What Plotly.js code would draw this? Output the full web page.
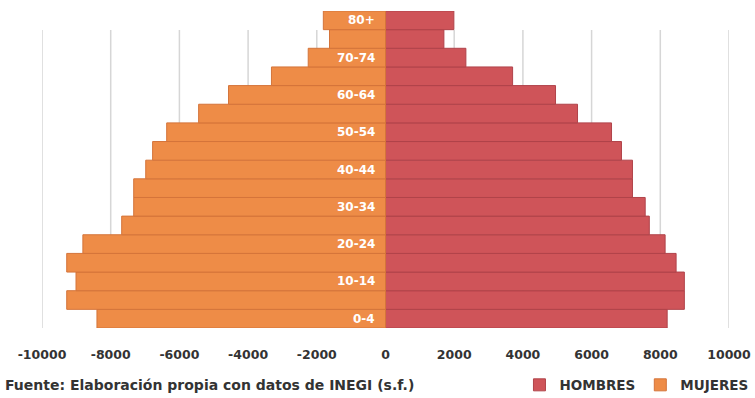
<!DOCTYPE html>
<html>
<head>
<meta charset="utf-8">
<script src="https://cdn.plot.ly/plotly-3.0.1.min.js"></script>
<style>
html,body{margin:0;padding:0;background:#fff;}
#chart{width:755px;height:398px;}
</style>
</head>
<body>
<div id="chart"></div>
<script>
// Age groups, bottom to top
var ageGroups = ["0-4","5-9","10-14","15-19","20-24","25-29","30-34","35-39","40-44","45-49","50-54","55-59","60-64","65-69","70-74","75-79","80+"];
// Labels shown on the bars (every other group)
var shownLabels = ["0-4","10-14","20-24","30-34","40-44","50-54","60-64","70-74","80+"];
// Hombres (positive side)
var hombres = [8200, 8700, 8700, 8460, 8140, 7680, 7560, 7190, 7190, 6870, 6580, 5590, 4950, 3700, 2340, 1700, 1990];
// Mujeres (negative side)
var mujeres = [-8400, -9280, -9010, -9280, -8810, -7680, -7330, -7330, -6980, -6780, -6370, -5440, -4570, -3320, -2250, -1630, -1810];
// Axis ticks
var tickVals = [-10000, -8000, -6000, -4000, -2000, 0, 2000, 4000, 6000, 8000, 10000];
var tickText = ["-10000", "-8000", "-6000", "-4000", "-2000", "0", "2000", "4000", "6000", "8000", "10000"];
var sourceText = "Fuente: Elaboración propia con datos de INEGI (s.f.)";

var RED = "#CF5459", RED_EDGE = "#B0434A";
var ORANGE = "#EE8C47", ORANGE_EDGE = "#D4743A";
var FONT = "DejaVu Sans";
var TEXT_COLOR = "#333333";

var traces = [
  {
    type: "bar", orientation: "h", name: "<b>HOMBRES</b>",
    y: ageGroups, x: hombres,
    marker: {color: RED, line: {color: RED_EDGE, width: 1}},
    hoverinfo: "skip"
  },
  {
    type: "bar", orientation: "h", name: "<b>MUJERES</b>",
    y: ageGroups, x: mujeres,
    marker: {color: ORANGE, line: {color: ORANGE_EDGE, width: 1}},
    hoverinfo: "skip"
  }
];

var shapes = tickVals.map(function(v){
  return {type: "line", xref: "x", yref: "paper", x0: v, x1: v, y0: 0, y1: 0.94,
          line: {color: "#D6D6D6", width: 1.5}, layer: "below"};
});

var annotations = shownLabels.map(function(g){
  return {x: 0, y: g, xref: "x", yref: "y", xanchor: "right", yanchor: "middle", xshift: -9,
          text: "<b>" + g + "</b>", showarrow: false,
          font: {family: FONT, size: 12, color: "#FFFFFF"}};
});
annotations.push({
  xref: "paper", yref: "paper", x: -0.057, y: -0.18, xanchor: "left", yanchor: "middle",
  text: "<b>" + sourceText + "</b>", showarrow: false,
  font: {family: FONT, size: 14, color: TEXT_COLOR}
});

var layout = {
  width: 755, height: 398,
  margin: {l: 42, r: 26, t: 11, b: 70, autoexpand: false},
  paper_bgcolor: "#FFFFFF", plot_bgcolor: "#FFFFFF",
  barmode: "overlay", bargap: 0,
  showlegend: true,
  legend: {
    orientation: "h", x: 0.695, y: -0.18, xanchor: "left", yanchor: "middle",
    font: {family: FONT, size: 13.5, color: TEXT_COLOR},
    itemwidth: 30, tracegroupgap: 0,
    traceorder: "normal", itemclick: false
  },
  xaxis: {
    range: [-10000, 10000], tickvals: tickVals, ticktext: tickText,
    showgrid: false, zeroline: false, showline: false, ticks: "",
    ticklabelstandoff: 17, automargin: false,
    tickfont: {family: FONT, size: 12.5, color: TEXT_COLOR, weight: "bold"},
    fixedrange: true
  },
  yaxis: {
    type: "category", categoryorder: "array", categoryarray: ageGroups,
    range: [-0.5, 16.5], showticklabels: false, showgrid: false, zeroline: false,
    showline: false, ticks: "", fixedrange: true
  },
  shapes: shapes,
  annotations: annotations
};

Plotly.newPlot("chart", traces, layout, {displayModeBar: false, staticPlot: true});
</script>
</body>
</html>
